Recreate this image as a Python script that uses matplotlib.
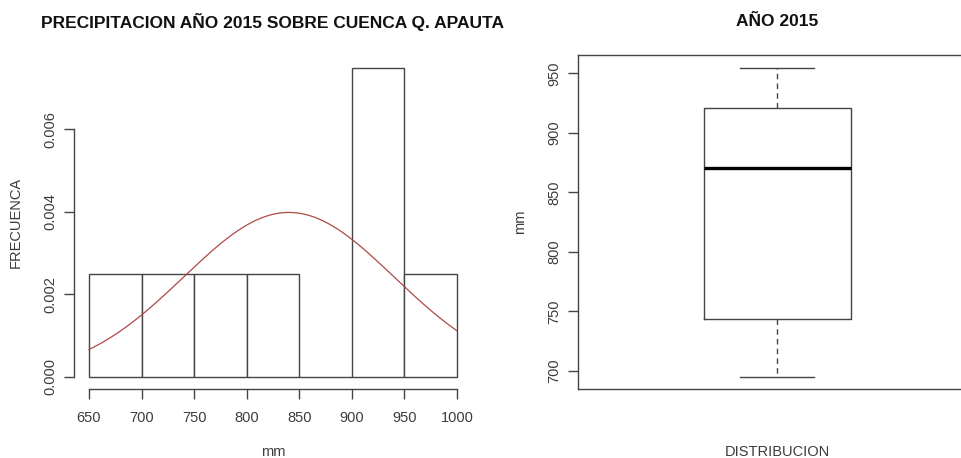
import numpy as np
import matplotlib
matplotlib.use("Agg")
import matplotlib.pyplot as plt

plt.rcParams['font.family'] = ['Liberation Sans', 'DejaVu Sans']

# Annual precipitation totals (mm), 2015, Q. Apauta basin
precip = [695.3, 730.0, 757.8, 838.0, 902.8, 915.0, 927.4, 954.8]
bin_edges = [650, 700, 750, 800, 850, 900, 950, 1000]
hist_yticks = [0.000, 0.002, 0.004, 0.006]
box_yticks = [700, 750, 800, 850, 900, 950]

title_left = "PRECIPITACION AÑO 2015 SOBRE CUENCA Q. APAUTA"
title_right = "AÑO 2015"

LINE = '#444444'
TXT = '#3c3c3c'

fig = plt.figure(figsize=(9.62, 4.58), dpi=100)

# ---------------- histogram + normal density ----------------
ax1 = fig.add_axes([0.0772, 0.1507, 0.4131, 0.7288])
ax1.hist(precip, bins=bin_edges, density=True, facecolor='white',
         edgecolor=LINE, linewidth=1.0)

data = np.array(precip)
mu, sd = data.mean(), data.std(ddof=1)
xs = np.linspace(bin_edges[0], bin_edges[-1], 300)
dens = np.exp(-0.5 * ((xs - mu) / sd) ** 2) / (sd * np.sqrt(2 * np.pi))
ax1.plot(xs, dens, color='#b04848', linewidth=0.9)

span = bin_edges[-1] - bin_edges[0]
ax1.set_xlim(bin_edges[0] - 0.04 * span, bin_edges[-1] + 0.04 * span)
ymax = 0.0075
ax1.set_ylim(-0.04 * ymax, ymax * 1.04)

ax1.spines['top'].set_visible(False)
ax1.spines['right'].set_visible(False)
ax1.spines['left'].set_bounds(hist_yticks[0], hist_yticks[-1])
ax1.spines['bottom'].set_bounds(bin_edges[0], bin_edges[-1])
for s in ('left', 'bottom'):
    ax1.spines[s].set_color(LINE)
    ax1.spines[s].set_linewidth(1.0)

ax1.set_xticks(bin_edges)
ax1.set_xticklabels([str(v) for v in bin_edges])
ax1.set_yticks(hist_yticks)
ax1.set_yticklabels([f"{v:.3f}" for v in hist_yticks], rotation=90, va='center')
ax1.tick_params(direction='out', length=7, width=1.0, color=LINE,
                labelsize=10.5, labelcolor=TXT)
ax1.tick_params(axis='x', pad=9)
ax1.tick_params(axis='y', pad=5)

ax1.set_xlabel("mm", fontsize=10.5, color=TXT, va='center')
ax1.xaxis.set_label_coords(0.5, -0.188)
ax1.set_ylabel("FRECUENCA", fontsize=10.5, color=TXT, va='center')
ax1.yaxis.set_label_coords(-0.1467, 0.5)

# ---------------- boxplot ----------------
ax2 = fig.add_axes([0.6012, 0.1507, 0.4137, 0.7288])

s = np.sort(data)
n = len(s)
n4 = np.floor((n + 3) / 2) / 2
d = np.array([1, n4, (n + 1) / 2, n + 1 - n4, n]) - 1
five = 0.5 * (s[np.floor(d).astype(int)] + s[np.ceil(d).astype(int)])
stats = [dict(whislo=five[0], q1=five[1], med=five[2], q3=five[3],
              whishi=five[4], fliers=[])]
ax2.bxp(stats, positions=[1], widths=0.4, capwidths=[0.2], showfliers=False,
        boxprops=dict(color=LINE, linewidth=1.0),
        whiskerprops=dict(color=LINE, linewidth=1.0, linestyle=(0, (4, 3))),
        capprops=dict(color=LINE, linewidth=1.0),
        medianprops=dict(color='black', linewidth=2.4))

ax2.set_xlim(0.46, 1.54)
yr = five[4] - five[0]
ax2.set_ylim(five[0] - 0.04 * yr, five[4] + 0.04 * yr)
ax2.set_xticks([])
ax2.set_yticks(box_yticks)
ax2.set_yticklabels([str(v) for v in box_yticks], rotation=90, va='center')
ax2.tick_params(direction='out', length=7, width=1.0, color=LINE,
                labelsize=10.5, labelcolor=TXT, pad=5)
for sp in ax2.spines.values():
    sp.set_color(LINE)
    sp.set_linewidth(1.0)

ax2.set_xlabel("DISTRIBUCION", fontsize=10.5, color=TXT, va='center')
ax2.xaxis.set_label_coords(0.5, -0.188)
ax2.set_ylabel("mm", fontsize=10.5, color=TXT, va='center')
ax2.yaxis.set_label_coords(-0.1465, 0.5)

# ---------------- titles ----------------
fig.text(273 / 962, 1 - 21.7 / 458, title_left, ha='center', va='center',
         fontsize=12.5, fontweight='bold', color='#111111')
fig.text(776.7 / 962, 1 - 21.7 / 458, title_right, ha='center', va='center',
         fontsize=12.5, fontweight='bold', color='#111111')

fig.savefig("out.png", dpi=100, facecolor='white')
